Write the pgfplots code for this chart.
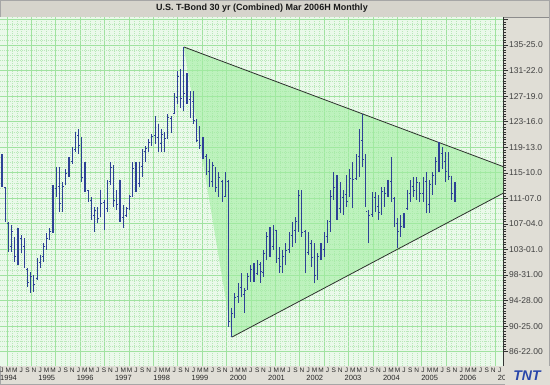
\documentclass[border=0pt]{standalone}
\usepackage{pgfplots}
\pgfplotsset{compat=1.18}
\usepackage{pgfplotstable}
\usepackage{fontspec}
\setmainfont{Liberation Sans}
\definecolor{bg}{RGB}{234,249,234}
\definecolor{gmaj}{RGB}{160,226,160}
\definecolor{gmin}{RGB}{185,232,185}
\definecolor{trifill}{RGB}{160,238,160}
\definecolor{barblue}{RGB}{45,65,150}
\definecolor{panel}{RGB}{224,222,214}
\definecolor{titlegray}{RGB}{214,212,204}
\definecolor{lineg}{RGB}{45,50,45}
\definecolor{logoblue}{RGB}{40,70,170}

\pgfdeclareplotmark{ohlcopen}{\pgfpathmoveto{\pgfqpoint{-\pgfplotmarksize}{0pt}}\pgfpathlineto{\pgfpointorigin}\pgfusepathqstroke}
\pgfdeclareplotmark{ohlcclose}{\pgfpathmoveto{\pgfqpoint{\pgfplotmarksize}{0pt}}\pgfpathlineto{\pgfpointorigin}\pgfusepathqstroke}

\pgfplotstableread{
m o h l c
0 117.8 118.3 113.1 113.6
1 113.0 113.1 107.5 108.0
2 107.2 107.4 102.7 103.8
3 103.6 107.0 102.7 105.9
4 104.9 105.1 101.1 102.0
5 102.2 106.5 100.6 105.2
6 104.8 105.4 102.5 103.4
7 103.6 104.9 100.1 100.8
8 99.9 100.1 97.1 97.8
9 97.9 99.5 96.1 98.8
10 98.6 99.0 96.3 97.5
11 98.4 101.7 98.2 101.2
12 101.0 102.2 100.1 101.8
13 101.9 104.1 101.1 103.6
14 103.5 105.7 103.0 104.9
15 105.0 106.5 104.6 106.0
16 106.1 113.4 105.7 112.8
17 112.9 116.3 111.5 113.0
18 113.2 116.2 109.0 110.4
19 110.2 113.9 109.0 113.2
20 113.6 115.9 113.4 115.2
21 115.3 117.8 114.6 117.3
22 117.2 119.5 116.7 119.0
23 119.1 121.8 118.7 121.2
24 121.3 122.3 118.3 119.8
25 120.0 121.1 113.9 114.6
26 114.4 117.0 112.2 112.8
27 112.5 112.6 110.7 111.2
28 111.0 111.5 107.8 108.4
29 108.5 109.9 105.9 109.3
30 109.2 109.8 107.3 108.0
31 108.5 112.6 108.3 110.5
32 110.6 111.0 106.2 109.8
33 109.7 114.2 109.1 113.8
34 113.9 117.0 113.4 116.2
35 116.0 116.6 109.8 111.0
36 111.2 112.6 109.4 110.3
37 110.4 114.2 107.5 108.0
38 108.2 110.2 106.5 107.0
39 108.5 109.9 108.3 109.6
40 109.5 111.8 109.4 111.5
41 111.6 117.0 111.5 116.0
42 116.1 117.0 112.2 113.5
43 113.6 117.0 113.0 116.5
44 116.4 119.1 114.6 118.8
45 118.7 119.6 117.1 119.3
46 119.2 120.7 118.6 120.3
47 120.4 121.5 119.6 121.2
48 121.3 124.4 119.9 121.0
49 121.1 123.1 118.7 120.0
50 120.1 122.3 118.7 121.5
51 121.6 121.8 118.7 120.9
52 121.0 124.7 120.7 124.2
53 124.1 124.4 121.8 123.9
54 124.8 128.2 124.7 127.5
55 127.4 131.6 126.3 130.8
56 130.7 131.9 125.8 127.3
57 127.5 135.5 125.2 128.0
58 128.1 131.4 126.3 127.0
59 127.1 128.4 124.2 126.7
60 126.8 128.4 123.1 123.7
61 123.8 123.9 120.2 120.6
62 120.5 122.8 119.1 119.8
63 119.9 121.0 117.5 117.9
64 118.0 118.3 115.0 115.6
65 115.5 117.5 113.1 113.8
66 113.9 117.0 113.1 116.5
67 116.0 116.2 112.3 113.0
68 113.1 115.5 111.5 114.6
69 114.0 114.2 110.6 111.2
70 111.6 115.5 111.5 114.0
71 114.0 114.2 90.6 91.5
72 91.6 93.7 89.05 92.8
73 92.9 96.1 92.1 95.4
74 95.5 97.7 94.5 96.9
75 97.0 99.3 95.5 95.9
76 95.8 96.9 92.9 96.5
77 96.7 99.3 96.6 98.8
78 98.7 100.6 97.9 99.9
79 100.0 100.9 97.9 98.5
80 99.2 101.4 99.0 100.8
81 100.7 101.1 97.7 99.5
82 99.4 103.0 98.7 102.5
83 102.6 105.8 101.4 105.2
84 105.1 106.7 101.9 103.4
85 103.5 107.0 103.0 106.3
86 106.2 106.2 100.9 101.6
87 101.7 103.5 99.3 100.3
88 100.4 103.0 99.3 102.0
89 102.1 104.1 100.6 103.0
90 103.1 105.8 102.5 105.4
91 105.3 107.4 103.5 106.0
92 106.1 108.3 104.1 107.5
93 107.6 112.6 105.8 111.8
94 111.7 112.6 105.1 105.8
95 105.9 106.2 99.3 102.5
96 102.6 105.8 102.2 104.0
97 104.1 104.6 100.3 101.8
98 101.9 104.1 97.7 98.9
99 99.0 102.5 98.2 101.9
100 101.8 104.1 101.4 103.0
101 103.1 105.8 101.9 105.2
102 105.1 107.8 104.1 107.4
103 107.5 112.6 105.8 111.6
104 111.7 115.4 111.0 113.0
105 113.1 115.0 107.8 109.5
106 109.6 113.8 108.9 111.5
107 111.4 112.6 108.6 112.0
108 111.9 115.0 109.9 110.8
109 111.6 115.9 111.5 114.5
110 114.4 117.1 109.7 114.3
111 114.4 118.3 114.2 117.8
112 117.9 122.3 114.7 120.5
113 120.6 124.7 116.3 117.5
114 117.4 118.3 109.9 109.2
115 109.1 109.4 104.1 108.6
116 108.7 112.3 108.3 111.5
117 111.4 112.3 109.0 109.8
118 109.9 111.8 107.8 109.0
119 109.1 113.1 108.6 112.4
120 112.5 113.1 109.9 112.0
121 112.1 114.2 111.5 113.8
122 113.9 117.9 110.6 111.3
123 111.2 111.4 106.7 107.2
124 107.3 108.1 103.3 106.0
125 106.1 108.6 105.1 106.8
126 106.9 108.9 106.5 108.6
127 109.6 112.6 109.4 112.2
128 112.1 114.2 110.6 113.1
129 113.2 114.6 111.5 112.5
130 112.6 114.7 111.0 113.8
131 113.5 113.8 110.6 112.0
132 112.1 114.7 110.6 113.8
133 113.9 115.4 108.9 110.2
134 110.3 114.2 108.9 113.5
135 113.6 115.5 111.8 114.9
136 115.0 117.8 113.4 117.2
137 117.3 120.2 115.4 118.4
138 118.5 119.4 115.9 117.0
139 117.1 118.6 113.8 115.6
140 115.7 118.7 114.2 114.8
141 114.7 114.7 111.0 112.0
142 112.1 113.8 110.6 111.5
}\ohlc

\begin{document}
\begin{tikzpicture}[x=1pt,y=1pt]
\useasboundingbox (0,0) rectangle (550,385);
\fill[panel] (0,0) rectangle (550,385);
\fill[titlegray] (0.5,368) rectangle (549.5,384.5);
\draw[black!45, line width=0.6pt] (0.5,368) -- (549.5,368);
\draw[black!35, line width=0.6pt] (0.3,0.3) rectangle (549.7,384.7);
\node[font=\bfseries\fontsize{9}{10}\selectfont, text=black!90] at (262,376.5) {U.S. T-Bond 30 yr (Combined) Mar 2006H Monthly};

% background grid
\begin{axis}[at={(0pt,19pt)}, anchor=south west, scale only axis,
  width=503pt, height=349pt,
  xmin=-0.63, xmax=157.05, ymin=84.40, ymax=140.30,
  axis background/.style={fill=bg},
  axis line style={draw=none},
  xtick={1.57,9.22,...,157}, ytick={86.6875,90.78125,...,141},
  minor x tick num=4, minor y tick num=4,
  grid=both,
  major grid style={gmaj, line width=0.9pt},
  minor grid style={gmin, dash pattern=on 0.6pt off 1.4pt, line width=0.4pt},
  xticklabels={}, yticklabels={},
  major tick length=0pt, minor tick length=0pt]
\end{axis}

% data
\begin{axis}[at={(0pt,19pt)}, anchor=south west, scale only axis,
  width=503pt, height=349pt,
  xmin=-0.63, xmax=157.05, ymin=84.40, ymax=140.30,
  axis x line*=bottom, axis y line*=right,
  x axis line style={draw=none},
  y axis line style={draw=black!80, line width=0.6pt},
  tick align=outside,
  xtick={0,2,...,156},
  xticklabels={J,M,M,J,S,N,J,M,M,J,S,N,J,M,M,J,S,N,J,M,M,J,S,N,J,M,M,J,S,N,J,M,M,J,S,N,J,M,M,J,S,N,J,M,M,J,S,N,J,M,M,J,S,N,J,M,M,J,S,N,J,M,M,J,S,N,J,M,M,J,S,N,J,M,M,J,S,N,J},
  x tick style={draw=none},
  x tick label style={font=\fontsize{6.5}{7}\selectfont, inner sep=0pt, yshift=3pt, text=black!85},
  extra x ticks={0,12,...,156},
  extra x tick labels={1994,1995,1996,1997,1998,1999,2000,2001,2002,2003,2004,2005,2006,20},
  extra x tick style={grid=none, x tick label style={yshift=-7pt, anchor=north west, xshift=-2pt, font=\fontsize{7.5}{8}\selectfont}},
  ytick={86.6875,90.78125,...,141},
  yticklabels={86-22.00,90-25.00,94-28.00,98-31.00,103-01.0,107-04.0,111-07.0,115-10.0,119-13.0,123-16.0,127-19.0,131-22.0,135-25.0,{}},
  minor y tick num=9,
  y tick style={draw=black!80, line width=0.5pt},
  major tick length=5pt, minor tick length=3pt,
  y tick label style={font=\fontsize{8.5}{9}\selectfont, inner sep=1pt, text=black!75},
  clip=true]

\addplot[draw=none, fill=trifill, fill opacity=0.6] coordinates {(57,135.5) (157.05,116.35) (157.05,112.06) (72.1,89.04)} -- cycle;
\addplot[lineg, line width=0.8pt] coordinates {(57,135.5) (157.05,116.35)};
\addplot[lineg, line width=0.8pt] coordinates {(72.1,89.04) (157.05,112.06)};

\addplot[draw=none, mark=none,
  error bars/.cd, y dir=both, y explicit, error mark=none,
  error bar style={draw=barblue, solid, line width=1.1pt}]
  table[x=m, y expr={(\thisrow{h}+\thisrow{l})/2}, y error expr={(\thisrow{h}-\thisrow{l})/2}] {\ohlc};
\addplot[color=barblue, only marks, mark=ohlcopen, mark size=1.1pt, line width=0.7pt, mark options={draw=barblue}] table[x=m, y=o] {\ohlc};
\addplot[color=barblue, only marks, mark=ohlcclose, mark size=1.1pt, line width=0.7pt, mark options={draw=barblue}] table[x=m, y=c] {\ohlc};
\end{axis}

\fill[panel] (505,0) rectangle (549.7,18.5);
\node[font=\bfseries\itshape\fontsize{14}{14}\selectfont, text=logoblue, inner sep=0pt] at (527,9.5) {TNT};
\end{tikzpicture}
\end{document}
